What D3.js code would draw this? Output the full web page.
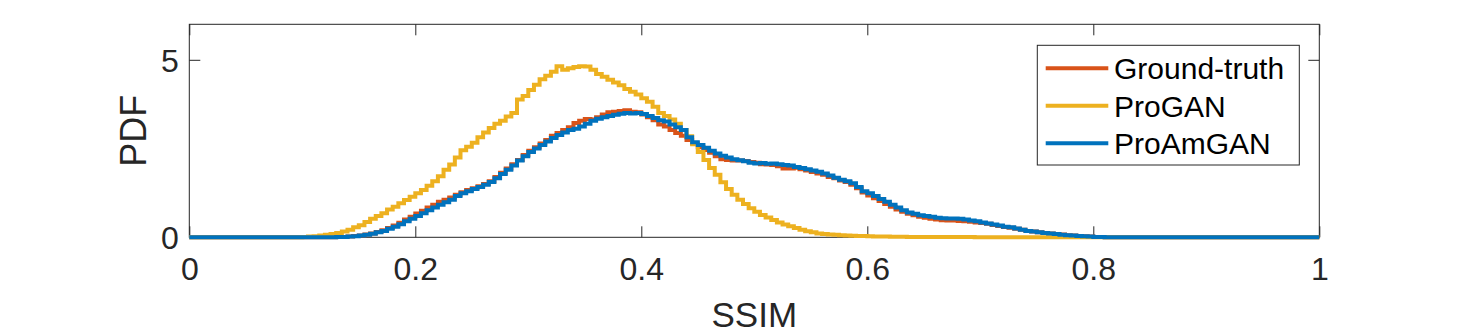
<!DOCTYPE html>
<html>
<head>
<meta charset="utf-8">
<script src="https://cdn.jsdelivr.net/npm/d3@7"></script>
<style>
  body { margin: 0; background: #fff; }
  text { font-family: "Liberation Sans", Arial, Helvetica, sans-serif; fill: #262626; }
</style>
</head>
<body>
<div id="chart"></div>
<script>
// histogram bins (pdf), all starting at binStart with width binWidth
const binStart = 0.1;
const binWidth = 0.005;

const groundTruth = [
  0, 0, 0, 0, 0, 0, 0.005, 0.01, 0.02, 0.035,
  0.05, 0.08, 0.11, 0.15, 0.20, 0.26, 0.33, 0.41, 0.50, 0.58,
  0.67, 0.75, 0.84, 0.92, 1.00, 1.06, 1.12, 1.20, 1.27, 1.33,
  1.38, 1.44, 1.50, 1.58, 1.70, 1.82, 1.94, 2.06, 2.18, 2.32,
  2.44, 2.54, 2.64, 2.74, 2.86, 2.94, 3.02, 3.10, 3.22, 3.28,
  3.33, 3.32, 3.38, 3.46, 3.52, 3.54, 3.56, 3.58, 3.54, 3.52,
  3.46, 3.38, 3.30, 3.18, 3.12, 3.02, 2.94, 2.86, 2.74, 2.64,
  2.54, 2.46, 2.38, 2.28, 2.20, 2.18, 2.16, 2.16, 2.15, 2.12,
  2.10, 2.06, 2.05, 2.04, 2.00, 1.94, 1.94, 1.96, 1.92, 1.88,
  1.84, 1.80, 1.76, 1.70, 1.66, 1.60, 1.56, 1.48, 1.38, 1.26,
  1.18, 1.10, 1.02, 0.94, 0.86, 0.78, 0.72, 0.66, 0.62, 0.58,
  0.55, 0.52, 0.50, 0.48, 0.47, 0.47, 0.46, 0.45, 0.44, 0.42,
  0.40, 0.38, 0.35, 0.32, 0.29, 0.27, 0.24, 0.21, 0.18, 0.16,
  0.14, 0.12, 0.11, 0.09, 0.08, 0.06, 0.05, 0.04, 0.03, 0.02,
  0.01, 0.005
];

const proGAN = [
  0.01, 0.02, 0.03, 0.05, 0.07, 0.09, 0.12, 0.16, 0.21, 0.28,
  0.34, 0.43, 0.52, 0.60, 0.68, 0.78, 0.86, 0.96, 1.05, 1.14,
  1.24, 1.33, 1.45, 1.58, 1.72, 1.90, 2.05, 2.25, 2.45, 2.55,
  2.66, 2.82, 2.95, 3.08, 3.20, 3.28, 3.40, 3.50, 3.88, 3.98,
  4.15, 4.30, 4.45, 4.55, 4.66, 4.82, 4.72, 4.76, 4.80, 4.82,
  4.81, 4.72, 4.60, 4.52, 4.44, 4.36, 4.28, 4.18, 4.10, 4.02,
  3.92, 3.82, 3.68, 3.50, 3.42, 3.32, 3.20, 3.02, 2.85, 2.62,
  2.40, 2.18, 1.95, 1.76, 1.55, 1.36, 1.20, 1.06, 0.94, 0.82,
  0.72, 0.63, 0.56, 0.49, 0.42, 0.36, 0.31, 0.26, 0.21, 0.17,
  0.14, 0.11, 0.09, 0.08, 0.07, 0.06, 0.05, 0.045, 0.04, 0.035,
  0.03, 0.025, 0.02, 0.02, 0.015, 0.015, 0.012, 0.01, 0.01, 0.01,
  0.008, 0.008, 0.007, 0.007, 0.006, 0.006, 0.005, 0.005, 0.005, 0.004,
  0.004, 0.004, 0.003, 0.003, 0.003, 0.003, 0.002, 0.002, 0.002, 0.002,
  0.002, 0.001, 0.001, 0.001, 0.001, 0.001, 0.001, 0.001, 0, 0
];

const proAmGAN = [
  0, 0, 0, 0, 0, 0, 0.005, 0.01, 0.02, 0.03,
  0.05, 0.07, 0.10, 0.14, 0.18, 0.24, 0.30, 0.37, 0.45, 0.52,
  0.60, 0.68, 0.76, 0.84, 0.92, 0.99, 1.06, 1.16, 1.24, 1.30,
  1.36, 1.42, 1.48, 1.56, 1.66, 1.78, 1.90, 2.02, 2.16, 2.28,
  2.40, 2.50, 2.60, 2.70, 2.80, 2.88, 2.95, 3.02, 3.06, 3.12,
  3.20, 3.28, 3.34, 3.38, 3.42, 3.45, 3.48, 3.50, 3.49, 3.50,
  3.47, 3.42, 3.36, 3.30, 3.26, 3.18, 3.10, 3.02, 2.82, 2.68,
  2.60, 2.52, 2.44, 2.36, 2.30, 2.25, 2.20, 2.17, 2.14, 2.10,
  2.08, 2.09, 2.07, 2.08, 2.06, 2.04, 2.02, 1.98, 1.95, 1.92,
  1.88, 1.85, 1.80, 1.74, 1.68, 1.62, 1.58, 1.52, 1.42, 1.30,
  1.24, 1.16, 1.08, 1.00, 0.92, 0.84, 0.76, 0.70, 0.66, 0.62,
  0.60, 0.58, 0.55, 0.54, 0.53, 0.53, 0.52, 0.50, 0.47, 0.45,
  0.42, 0.39, 0.36, 0.33, 0.30, 0.28, 0.25, 0.21, 0.18, 0.16,
  0.14, 0.12, 0.11, 0.09, 0.07, 0.06, 0.05, 0.04, 0.03, 0.02,
  0.01, 0.005
];

const seriesNames = ['Ground-truth', 'ProGAN', 'ProAmGAN'];
const seriesColors = ['#D95319', '#EDB120', '#0072BD'];
const xTicks = [0, 0.2, 0.4, 0.6, 0.8, 1];
const yTicks = [0, 5];

const W = 1458, H = 333;
const plotL = 189.3, plotR = 1319.3, plotT = 24.3, plotB = 237.3;

const svg = d3.select('#chart').append('svg')
  .attr('width', W)
  .attr('height', H);

const x = d3.scaleLinear().domain([0, 1]).range([plotL, plotR]);
const y = d3.scaleLinear().domain([0, 6]).range([plotB, plotT]);

// axes box
svg.append('rect')
  .attr('x', plotL).attr('y', plotT)
  .attr('width', plotR - plotL).attr('height', plotB - plotT)
  .attr('fill', 'none').attr('stroke', '#262626').attr('stroke-width', 1);

const tickLen = 11;
const xAxis = svg.append('g')
  .attr('transform', `translate(0,${plotB})`)
  .call(d3.axisBottom(x).tickValues(xTicks).tickSize(-tickLen).tickFormat(d3.format('')));
xAxis.select('.domain').remove();
xAxis.selectAll('line').attr('stroke', '#262626');
xAxis.selectAll('text')
  .attr('y', 42.7).attr('dy', null)
  .style('font-size', '32px').attr('fill', '#262626');

svg.append('g')
  .attr('transform', `translate(0,${plotT})`)
  .call(d3.axisTop(x).tickValues(xTicks).tickSize(-tickLen).tickFormat(''))
  .call(g => g.select('.domain').remove())
  .selectAll('line').attr('stroke', '#262626');

const yAxis = svg.append('g')
  .attr('transform', `translate(${plotL},0)`)
  .call(d3.axisLeft(y).tickValues(yTicks).tickSize(-tickLen).tickFormat(d3.format('d')));
yAxis.select('.domain').remove();
yAxis.selectAll('line').attr('stroke', '#262626');
yAxis.selectAll('text')
  .attr('x', -10.5).attr('dy', null).attr('y', 11.5)
  .style('font-size', '32px').attr('fill', '#262626');

svg.append('g')
  .attr('transform', `translate(${plotR},0)`)
  .call(d3.axisRight(y).tickValues(yTicks).tickSize(-tickLen).tickFormat(''))
  .call(g => g.select('.domain').remove())
  .selectAll('line').attr('stroke', '#262626');

// labels
svg.append('text')
  .attr('x', (plotL + plotR) / 2).attr('y', 327)
  .attr('text-anchor', 'middle')
  .style('font-size', '35px')
  .text('SSIM');

svg.append('text')
  .attr('transform', `translate(146,${(plotT + plotB) / 2}) rotate(-90)`)
  .attr('text-anchor', 'middle')
  .style('font-size', '36px')
  .text('PDF');

// stairs
function stairs(vals) {
  const pts = [[0, 0]];
  vals.forEach((v, i) => pts.push([binStart + i * binWidth, v]));
  pts.push([binStart + vals.length * binWidth, 0]);
  pts.push([1, 0]);
  return pts;
}

const line = d3.line()
  .x(d => x(d[0]))
  .y(d => y(d[1]))
  .curve(d3.curveStepAfter);

[groundTruth, proGAN, proAmGAN].forEach((vals, i) => {
  svg.append('path')
    .datum(stairs(vals))
    .attr('d', line)
    .attr('fill', 'none')
    .attr('stroke', seriesColors[i])
    .attr('stroke-width', 4);
});

// legend
const lg = svg.append('g');
lg.append('rect')
  .attr('x', 1037.3).attr('y', 45.3)
  .attr('width', 262).attr('height', 119.7)
  .attr('fill', '#fff').attr('stroke', '#262626').attr('stroke-width', 1);

const rowY = [68.3, 105.8, 143.3];
seriesNames.forEach((name, i) => {
  lg.append('line')
    .attr('x1', 1045.7).attr('x2', 1108.3)
    .attr('y1', rowY[i]).attr('y2', rowY[i])
    .attr('stroke', seriesColors[i]).attr('stroke-width', 4);
  lg.append('text')
    .attr('x', 1114).attr('y', rowY[i] + 10.7)
    .style('font-size', '30px')
    .style('fill', '#000')
    .text(name);
});
</script>
</body>
</html>
